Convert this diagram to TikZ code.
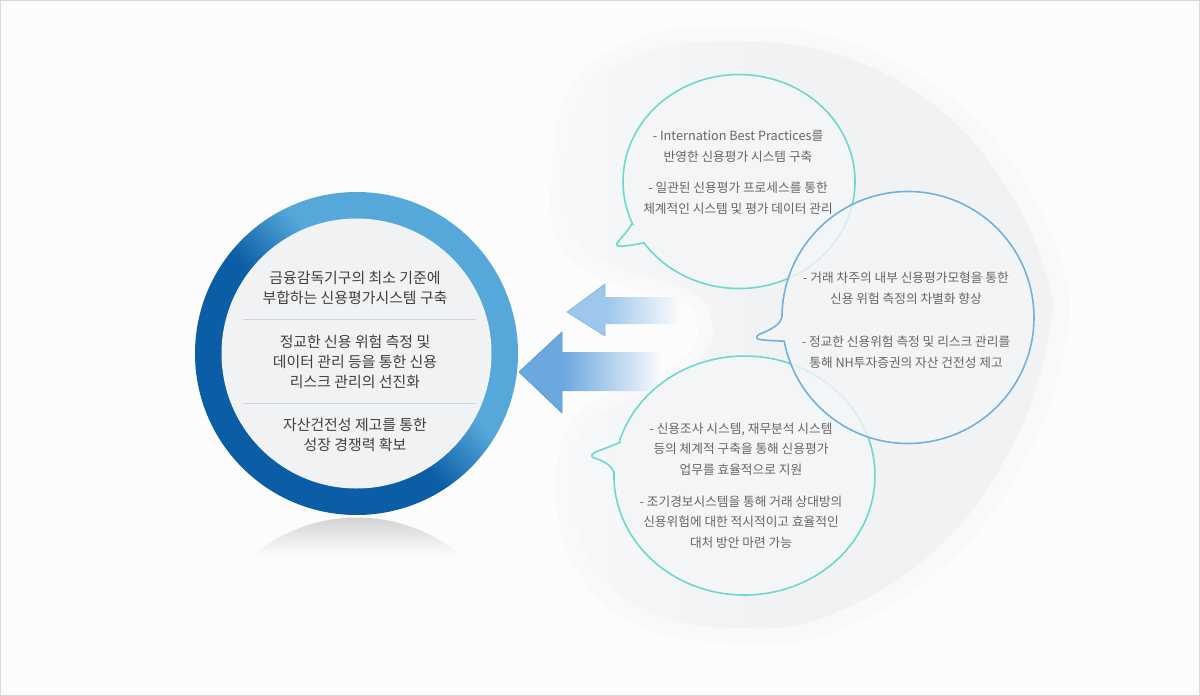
\documentclass[tikz,border=0pt]{standalone}
\usepackage{fontspec}
\setmainfont{Noto Sans CJK KR}
\definecolor{bg}{HTML}{FCFCFC}
\definecolor{framec}{HTML}{D9D9D9}
\definecolor{blobout}{HTML}{F9F9FA}
\definecolor{blobinL}{HTML}{F7F8F9}
\definecolor{blobinR}{HTML}{F1F2F4}
\definecolor{bubfill}{HTML}{F4F5F7}
\definecolor{tealc}{HTML}{6CD9D0}
\definecolor{bbluec}{HTML}{6FB2E0}
\definecolor{ringdark}{HTML}{0B5EA6}
\definecolor{ringlight}{HTML}{56A7DA}
\definecolor{innerfill}{HTML}{F1F2F4}
\definecolor{sepc}{HTML}{D2D5DA}
\definecolor{textdark}{HTML}{404040}
\definecolor{textgray}{HTML}{666666}
\definecolor{arrowA}{HTML}{9DC7EC}
\definecolor{arrowAedge}{HTML}{86B6E3}
\definecolor{arrowB}{HTML}{6CA8E0}
\definecolor{arrowBedge}{HTML}{5A98D6}
\definecolor{reflc}{HTML}{D4D4D4}
\pgfdeclarehorizontalshading{ringshade}{100bp}{color(0bp)=(ringdark); color(46bp)=(ringdark); color(57bp)=(ringlight); color(100bp)=(ringlight)}
\pgfdeclarehorizontalshading{fadeA}{100bp}{color(0bp)=(arrowA); color(42bp)=(arrowA); color(75bp)=(bg); color(100bp)=(bg)}
\pgfdeclarehorizontalshading{fadeB}{100bp}{color(0bp)=(arrowB); color(40bp)=(arrowB); color(74bp)=(bg); color(100bp)=(bg)}
\pgfdeclarehorizontalshading{blobshade}{100bp}{color(0bp)=(blobinL); color(25bp)=(blobinL); color(45bp)=(blobinR); color(100bp)=(blobinR)}
\tikzset{
  ltext/.style={align=center, text=textdark, font=\fontsize{14.9}{20}\selectfont, inner sep=0pt},
  btext/.style={align=center, text=textgray, font=\fontsize{12.7}{20.5}\selectfont, inner sep=0pt},
  bubble/.style={fill=bubfill, line width=1.6pt},
  sepline/.style={draw=sepc, line width=0.8pt}
}
\begin{document}
\begin{tikzpicture}[x=1pt,y=-1pt]
\useasboundingbox (0,0) rectangle (1200,696);
\fill[bg] (0,0) rectangle (1200,696);
\draw[framec, line width=1.2pt] (0.6,0.6) rectangle (1199.4,695.4);
% background blob
\fill[blobout] plot[smooth cycle, tension=0.7] coordinates {(552,170) (572,85) (635,40) (710,27) (825,35) (930,82) (1010,160) (1062,265) (1065,345) (1025,460) (945,565) (835,632) (740,643) (640,627) (580,575) (557,500) (572,420) (630,385) (688,355) (697,322) (680,300) (615,283) (560,245)};
\shade[shading=blobshade] plot[smooth cycle, tension=0.7] coordinates {(567,170) (585,95) (640,55) (710,42) (820,50) (920,95) (995,170) (1045,270) (1048,340) (1010,450) (935,550) (830,615) (740,628) (650,612) (595,565) (572,495) (585,430) (640,395) (700,360) (712,320) (690,290) (620,268) (575,235)};
% reflection
\begin{scope}
\clip (200,517) rectangle (520,556);
\clip (357,679) circle[radius=161.5];
\shade[top color=reflc, bottom color=bg] (200,517) rectangle (520,556);
\end{scope}
% ring
\shade[shading=ringshade, shading angle=42] (356.5,353.5) circle[radius=161.5];
\fill[innerfill] (356.5,353.5) circle[radius=135];
\draw[sepline] (243,319) -- (476,319);
\draw[sepline] (243,403) -- (476,403);
% arrows
\shade[shading=fadeA] (567,312) -- (605,284) -- (605,297) -- (680,297) -- (680,324) -- (605,324) -- (605,336) -- cycle;
\draw[arrowAedge, line width=0.7pt, line join=round] (605,297) -- (605,284) -- (567,312) -- (605,336) -- (605,324);
\shade[shading=fadeB] (519,372) -- (562,332) -- (562,352) -- (665,352) -- (665,391) -- (562,391) -- (562,413) -- cycle;
\draw[arrowBedge, line width=0.7pt, line join=round] (562,352) -- (562,332) -- (519,372) -- (562,413) -- (562,391);
% bubbles
\path[bubble, draw=tealc] (632.2,223.3) .. controls (628,231) and (621,238) .. (617.5,242.5) .. controls (615.5,245.5) and (618,246.5) .. (622,246.2) .. controls (630,245.6) and (638,244) .. (644.0,242.9) arc[start angle=145, end angle=-203, x radius=116, y radius=107] -- cycle;
\path[bubble, draw=tealc] (619.1,442.6) .. controls (612,446) and (600,450) .. (594.5,452.5) .. controls (590.5,454.5) and (591,457.5) .. (595.5,458.5) .. controls (604,461) and (611,465) .. (614.0,472.4) arc[start angle=181.5, end angle=-164, x radius=130.5, y radius=119.5] -- cycle;
\path[bubble, draw=bbluec, fill opacity=0.8] (782,316) .. controls (781,325) and (770,330) .. (760,334) .. controls (755,336) and (756,339.5) .. (761,339.8) .. controls (770,340.5) and (778,341) .. (784.2,341.1) arc[start angle=169.2, end angle=-179.3, radius=126] -- cycle;
% left circle texts
\node[ltext] (m1) at (355,288) {금융감독기구의 최소 기준에\\부합하는 신용평가시스템 구축};
\node[ltext] (m2) at (355,362) {정교한 신용 위험 측정 및\\데이터 관리 등을 통한 신용\\리스크 관리의 선진화};
\node[ltext] (m3) at (355,435) {자산건전성 제고를 통한\\성장 경쟁력 확보};
% bubble texts
\node[btext] (t11) at (738,146.5) {- Internation Best Practices를\\반영한 신용평가 시스템 구축};
\node[btext] (t12) at (738,198) {- 일관된 신용평가 프로세스를 통한\\체계적인 시스템 및 평가 데이터 관리};
\node[btext] (t21) at (906,288) {- 거래 차주의 내부 신용평가모형을 통한\\신용 위험 측정의 차별화 향상};
\node[btext] (t22) at (906,352) {- 정교한 신용위험 측정 및 리스크 관리를\\통해 NH투자증권의 자산 건전성 제고};
\node[btext] (t31) at (741,449) {- 신용조사 시스템, 재무분석 시스템\\등의 체계적 구축을 통해 신용평가\\업무를 효율적으로 지원};
\node[btext] (t32) at (741,522) {- 조기경보시스템을 통해 거래 상대방의\\신용위험에 대한 적시적이고 효율적인\\대처 방안 마련 가능};
\end{tikzpicture}
\end{document}
